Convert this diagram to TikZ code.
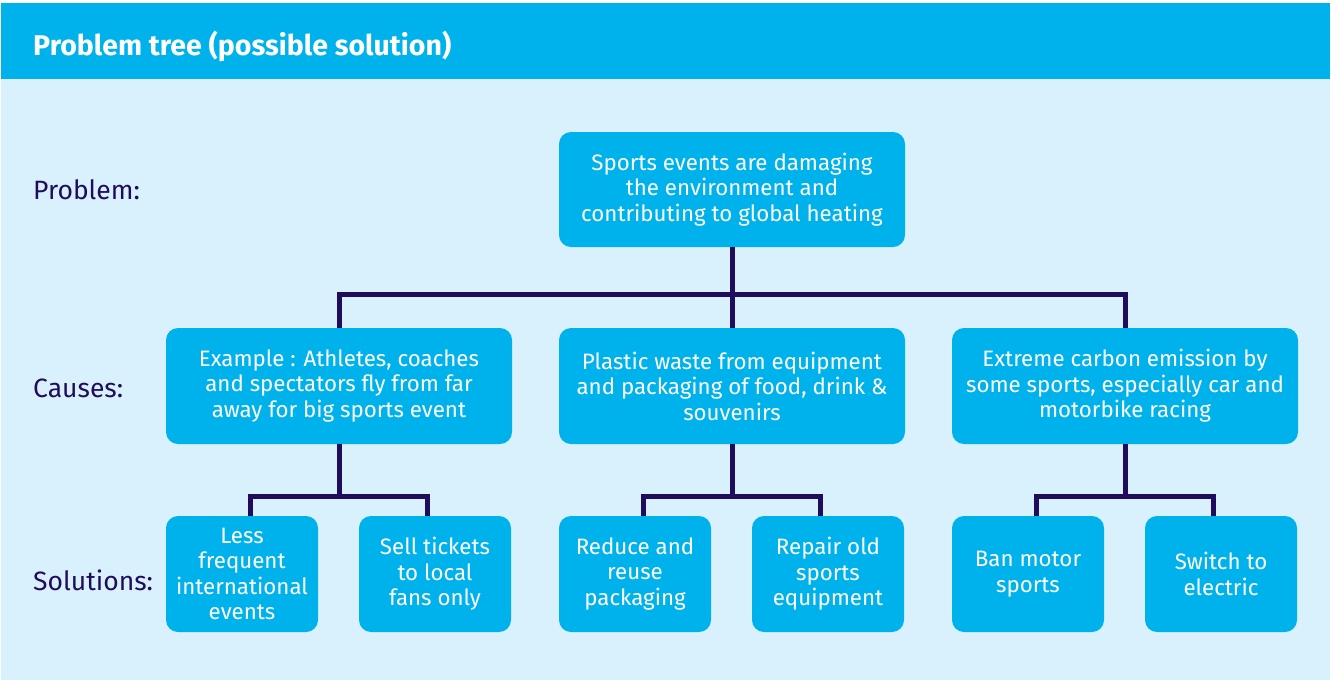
\documentclass[tikz,border=0pt]{standalone}
\usepackage{fontspec}
\setmainfont{Fira Sans}
\definecolor{cyanbox}{HTML}{00B2EB}
\definecolor{lightbg}{HTML}{D9F1FC}
\definecolor{navy}{HTML}{1F0C5C}
\begin{document}
\begin{tikzpicture}[x=1pt,y=-1pt,
  box/.style={fill=cyanbox,rounded corners=12pt,text=white,align=center,inner sep=0pt,
    font=\fontsize{22.3}{25.5}\selectfont},
  causebox/.style={box,minimum width=346pt,minimum height=116pt},
  solbox/.style={box,minimum width=152pt,minimum height=116pt},
  rowlabel/.style={anchor=west,inner sep=0pt,text=navy,font=\fontsize{26.5}{30}\selectfont},
  conn/.style={draw=navy,line width=5pt}]
\useasboundingbox (0,0) rectangle (1333,683);
\fill[lightbg] (1,79) rectangle (1330,680);
\fill[cyanbox] (1,3) rectangle (1330,79);
\node[anchor=west,inner sep=0pt,text=white,font=\fontsize{28.5}{32}\selectfont\bfseries] (title) at (33,46) {Problem tree (possible solution)};

\node[rowlabel] (lprob) at (33,190) {Problem:};
\node[rowlabel] (lcause) at (33,388) {Causes:};
\node[rowlabel] (lsol) at (33,580) {Solutions:};

\node[causebox,minimum height=115pt] (prob) at (732,189.5) {Sports events are damaging\\the environment and\\contributing to global heating};

\node[causebox] (c1) at (339,386) {Example : Athletes, coaches\\and spectators fly from far\\away for big sports event};
\node[causebox] (c2) at (732,386) {Plastic waste from equipment\\and packaging of food, drink \&\\souvenirs};
\node[causebox] (c3) at (1125,386) {Extreme carbon emission by\\some sports, especially car and\\motorbike racing};

\node[solbox] (s1) at (242,574) {Less\\frequent\\international\\events};
\node[solbox] (s2) at (435,574) {Sell tickets\\to local\\fans only};
\node[solbox] (s3) at (635,574) {Reduce and\\reuse\\packaging};
\node[solbox] (s4) at (828,574) {Repair old\\sports\\equipment};
\node[solbox] (s5) at (1028,574) {Ban motor\\sports};
\node[solbox] (s6) at (1221,574) {Switch to\\electric};

\coordinate (j0) at (732,294);
\draw[conn] (prob.south) -- (j0);
\draw[conn] (c1.north) |- (j0) -| (c3.north);
\draw[conn] (j0) -- (c2.north);

\coordinate (j1) at (339,496);
\coordinate (j2) at (732,496);
\coordinate (j3) at (1125,496);
\draw[conn] (c1.south) -- (j1);
\draw[conn] ([xshift=8pt]s1.north) |- ([xshift=-8pt]s2.north |- j1) -- ([xshift=-8pt]s2.north);
\draw[conn] (c2.south) -- (j2);
\draw[conn] ([xshift=8pt]s3.north) |- ([xshift=-8pt]s4.north |- j2) -- ([xshift=-8pt]s4.north);
\draw[conn] (c3.south) -- (j3);
\draw[conn] ([xshift=8pt]s5.north) |- ([xshift=-8pt]s6.north |- j3) -- ([xshift=-8pt]s6.north);
\end{tikzpicture}
\end{document}
